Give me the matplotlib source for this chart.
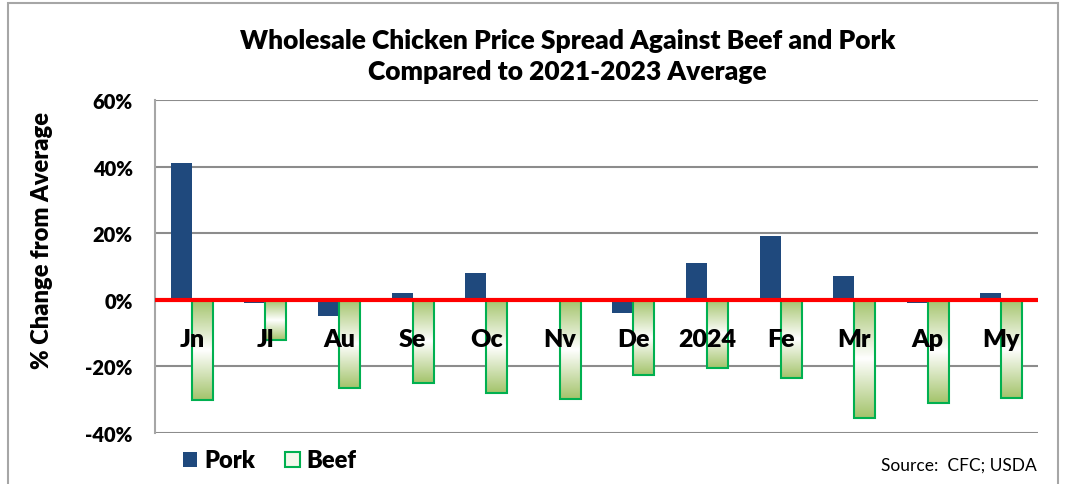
import numpy as np
import matplotlib.pyplot as plt
from matplotlib.patches import Rectangle
from matplotlib.colors import LinearSegmentedColormap

plt.rcParams['font.family'] = ['Lato', 'DejaVu Sans']

months = ['Jn', 'Jl', 'Au', 'Se', 'Oc', 'Nv', 'De', '2024', 'Fe', 'Mr', 'Ap', 'My']
pork = [41, -1, -5, 2, 8, -0.3, -4, 11, 19, 7, -1, 2]
beef = [-30, -12, -26.5, -25, -28, -29.7, -22.5, -20.5, -23.5, -35.5, -31, -29.5]
yticks = [-40, -20, 0, 20, 40, 60]

navy = '#1F497D'
green_edge = '#00B050'
green_fill = '#A4C46C'
wt = 'heavy'

fig = plt.figure(figsize=(10.67, 4.85), dpi=100)
ax = fig.add_axes([0.1453, 0.105, 0.8277, 0.687])

x = np.arange(len(months))
w = 0.285

ax.bar(x - w / 2, pork, width=w, color=navy, zorder=3)

# beef bars: green outline with a vertical green-white-green gradient
cmap = LinearSegmentedColormap.from_list('g', [green_fill, 'white', green_fill])
grad = np.linspace(0, 1, 100).reshape(-1, 1)
bars = ax.bar(x + w / 2, beef, width=w, facecolor='none', edgecolor=green_edge,
              linewidth=1.5, zorder=4)
for b in bars:
    x0, y0 = b.get_x(), b.get_y()
    ax.imshow(grad, cmap=cmap, extent=[x0, x0 + b.get_width(), y0 + b.get_height(), y0],
              aspect='auto', zorder=3.5, interpolation='bicubic')

ax.set_xlim(-0.5, len(months) - 0.5)
ax.set_ylim(-40, 60)
ax.set_yticks(yticks)
ax.set_yticklabels([f'{v}%' for v in yticks], fontsize=14.5, fontweight=wt)
ax.set_xticks([])
ax.tick_params(axis='y', length=0, pad=16)
ax.grid(axis='y', color='#8C8C8C', linewidth=1.5, zorder=0)
ax.axhline(0, color='red', linewidth=3, zorder=5)
for s in ['top', 'right', 'bottom']:
    ax.spines[s].set_visible(False)
ax.spines['left'].set_color('#A6A6A6')
ax.spines['left'].set_linewidth(1.5)

for i, m in enumerate(months):
    ax.text(i, 0.282, m, transform=ax.get_xaxis_transform(), ha='center', va='center',
            fontsize=18, fontweight=wt, zorder=6)

ax.set_ylabel('% Change from Average', fontsize=17, fontweight=wt)
ax.yaxis.set_label_coords(-0.115, 0.58)

fig.text(0.532, 0.883, 'Wholesale Chicken Price Spread Against Beef and Pork\nCompared to 2021-2023 Average',
         ha='center', va='center', fontsize=19, fontweight=wt, linespacing=1.35)

# legend
fig.patches.append(Rectangle((0.1715, 0.035), 0.0135, 0.03, transform=fig.transFigure,
                             facecolor=navy, edgecolor='none'))
fig.text(0.192, 0.05, 'Pork', fontsize=17, fontweight=wt, va='center')
fig.patches.append(Rectangle((0.2675, 0.035), 0.0135, 0.03, transform=fig.transFigure,
                             facecolor='#F4F8EC', edgecolor=green_edge, linewidth=1.5))
fig.text(0.287, 0.05, 'Beef', fontsize=17, fontweight=wt, va='center')

fig.text(0.972, 0.04, 'Source:  CFC; USDA', ha='right', va='center', fontsize=12.5)

# outer border
fig.patches.append(Rectangle((0.0075, -0.01), 0.984, 1.002, transform=fig.transFigure,
                             facecolor='none', edgecolor='#A6A6A6', linewidth=1.5))

fig.savefig('out.png', dpi=100)
